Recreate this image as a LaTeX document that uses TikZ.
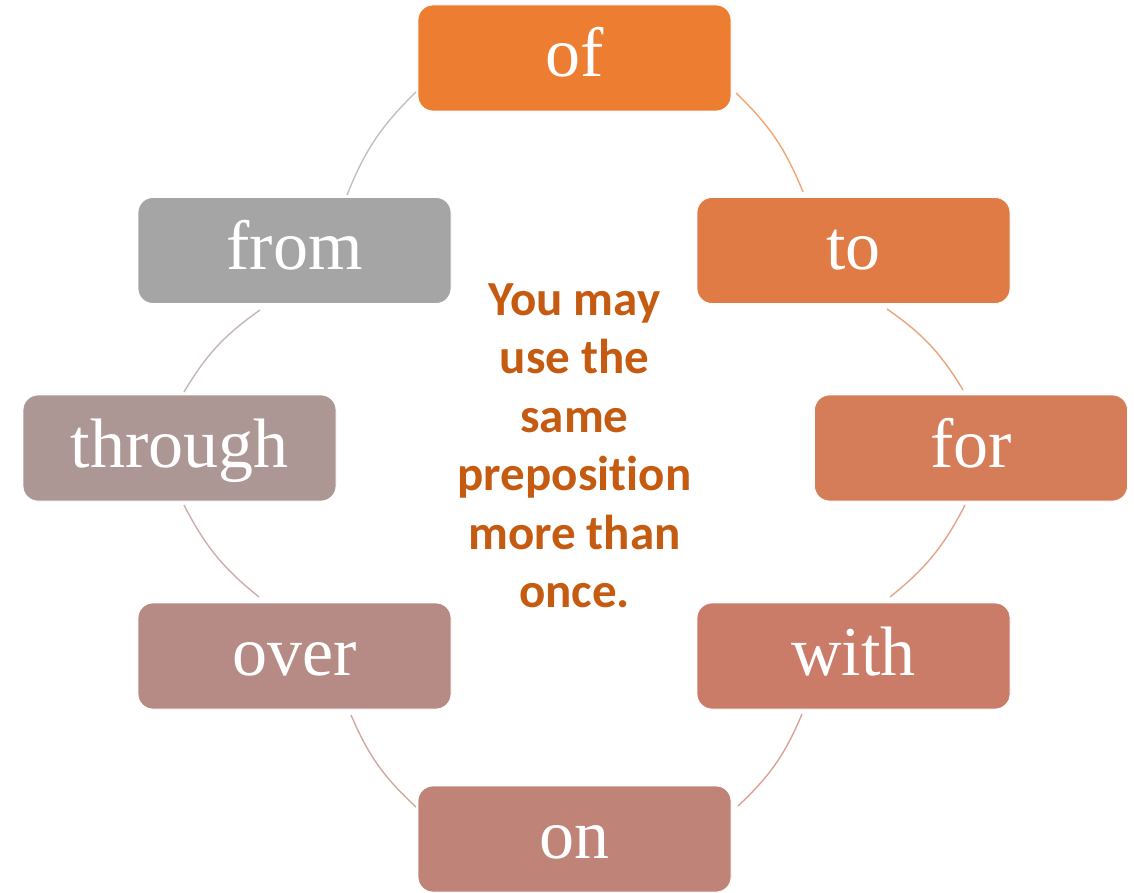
\documentclass[tikz,border=0pt]{standalone}
\usepackage{fontspec}
\setmainfont{Liberation Serif}
\newfontfamily\notefont[Ligatures=NoCommon]{Carlito}
\definecolor{cOf}{HTML}{ED7D31}
\definecolor{cTo}{HTML}{E07B45}
\definecolor{cFor}{HTML}{D57C59}
\definecolor{cWith}{HTML}{CA7C68}
\definecolor{cOn}{HTML}{BF8377}
\definecolor{cOver}{HTML}{B68B86}
\definecolor{cThrough}{HTML}{AD9795}
\definecolor{cFrom}{HTML}{A5A5A5}
\definecolor{cNote}{HTML}{C55A11}
\tikzset{
  prepbox/.style={rounded corners=15pt, minimum width=313pt, minimum height=106pt,
    inner sep=0pt, draw=white, line width=0.8pt, text=white,
    font=\fontsize{70}{74}\selectfont, text height=38pt, text depth=0pt},
  cyclink/.style={line width=1.4pt},
}
\begin{document}
\begin{tikzpicture}[x=1pt,y=-1pt]
\useasboundingbox (0,0) rectangle (1134,893);
\node[prepbox, fill=cOf] (of) at (574.5,58) {of};
\node[prepbox, fill=cTo] (to) at (853.5,250.5) {to};
\node[prepbox, fill=cFor] (for) at (971,448) {for};
\node[prepbox, fill=cWith] (with) at (853.5,656) {with};
\node[prepbox, fill=cOn] (on) at (574.5,839) {on};
\node[prepbox, fill=cOver] (over) at (294.5,656) {over};
\node[prepbox, fill=cThrough] (through) at (179.5,448) {through};
\node[prepbox, fill=cFrom] (from) at (294.5,250.5) {from};
\node[text=cNote, align=center, font=\notefont\bfseries\fontsize{49}{58.5}\selectfont] (note) at (574.5,446)
  {You may\\use the\\same\\preposition\\more than\\once.};
% arc end points
\coordinate (a1) at (736,93);   \coordinate (b1) at (803,192);
\coordinate (a2) at (887,309);  \coordinate (b2) at (963,390);
\coordinate (a3) at (965,505);  \coordinate (b3) at (890,597);
\coordinate (a4) at (802,714);  \coordinate (b4) at (738,806);
\coordinate (a5) at (416,807);  \coordinate (b5) at (351,715);
\coordinate (a6) at (259,597);  \coordinate (b6) at (184,505);
\coordinate (a7) at (184,392);  \coordinate (b7) at (260,310);
\coordinate (a8) at (347,195);  \coordinate (b8) at (416,92);
\draw[cyclink, cOf!70!white] (a1) to[bend left=12] (b1);
\draw[cyclink, cTo!70!white] (a2) to[bend left=12] (b2);
\draw[cyclink, cFor!70!white] (a3) to[bend left=12] (b3);
\draw[cyclink, cWith!70!white] (a4) to[bend left=12] (b4);
\draw[cyclink, cOn!70!white] (a5) to[bend left=12] (b5);
\draw[cyclink, cOver!70!white] (a6) to[bend left=12] (b6);
\draw[cyclink, cThrough!70!white] (a7) to[bend left=12] (b7);
\draw[cyclink, cFrom!70!white] (a8) to[bend left=12] (b8);
\end{tikzpicture}
\end{document}
